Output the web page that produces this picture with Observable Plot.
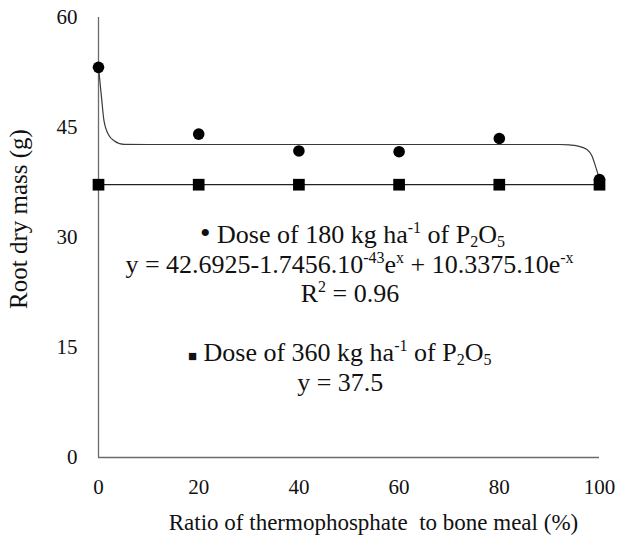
<!DOCTYPE html>
<html>
<head>
<meta charset="utf-8">
<script src="https://cdn.jsdelivr.net/npm/d3@7"></script>
<script src="https://cdn.jsdelivr.net/npm/@observablehq/plot@0.6"></script>
<style>
  html, body { margin: 0; padding: 0; background: #fff; }
</style>
</head>
<body>
<div id="chart"></div>
<script>
// ---- data ----
const ratios = [0, 20, 40, 60, 80, 100];
const dose180 = [53.2, 44.1, 41.8, 41.7, 43.5, 37.9];
const dose360 = [37.2, 37.2, 37.2, 37.2, 37.2, 37.2];
// fitted curve for dose 180
const fitX = [0, 0.6, 1.1, 2.1, 3.1, 5.1, 10, 20, 40, 60, 80, 92, 94, 95.5, 97.5, 98.5, 99.3, 100];
const fitY = [53.2, 49.1, 45.9, 43.9, 43.2, 42.7, 42.68, 42.68, 42.68, 42.68, 42.68, 42.68, 42.62, 42.5, 42.0, 41.1, 39.5, 38.0];
const xTicks = [0, 20, 40, 60, 80, 100];
const yTicks = [0, 15, 30, 45, 60];
const xTitle = "Ratio of thermophosphate  to bone meal (%)";
const yTitle = "Root dry mass (g)";

const pts180 = ratios.map((x, i) => ({x, y: dose180[i]}));
const pts360 = ratios.map((x, i) => ({x, y: dose360[i]}));
const fit = fitX.map((x, i) => ({x, y: fitY[i]}));

const serif = "'Liberation Serif', 'Times New Roman', serif";
const ink = "#111";

function annotations() {
  const g = d3.create("svg:g")
    .attr("font-family", serif)
    .attr("fill", ink);

  function line(cx, baseline, size, parts) {
    const t = g.append("text")
      .attr("x", cx).attr("y", baseline)
      .attr("text-anchor", "middle")
      .attr("font-size", size)
      .style("white-space", "pre");
    let shift = 0;
    for (const [txt, kind, extra] of parts) {
      let target = 0, fs = size;
      if (kind === "sup") { target = -Math.round(size * 0.40); fs = Math.round(size * 0.62); }
      else if (kind === "sub") { target = Math.round(size * 0.15); fs = Math.round(size * 0.62); }
      else if (kind === "small") { fs = extra; }
      const span = t.append("tspan").attr("font-size", fs).text(txt);
      if (target !== shift) { span.attr("dy", target - shift); shift = target; }
    }
    return t;
  }

  const S = 26;
  line(352.5, 243, S, [["\u2022", "small", 30], [" Dose of 180 kg ha"], ["-1", "sup"], [" of P"], ["2", "sub"], ["O"], ["5", "sub"]]);
  line(349.5, 273.3, S, [["y = 42.6925-1.7456.10"], ["-43", "sup"], ["e"], ["x", "sup"], [" + 10.3375.10e"], ["-x", "sup"]]);
  line(350, 301.7, S, [["R"], ["2", "sup"], [" = 0.96"]]);
  line(339.7, 361, S, [["\u25A0", "small", 15], [" Dose of 360 kg ha"], ["-1", "sup"], [" of P"], ["2", "sub"], ["O"], ["5", "sub"]]);
  line(340.3, 390.5, S, [["y = 37.5"]]);

  // axis titles
  g.append("text")
    .attr("x", 373.5).attr("y", 530)
    .attr("text-anchor", "middle")
    .attr("font-size", 23)
    .style("white-space", "pre")
    .text(xTitle);
  g.append("text")
    .attr("transform", "translate(27,219) rotate(-90)")
    .attr("text-anchor", "middle")
    .attr("font-size", 25)
    .text(yTitle);
  return g.node();
}

const chart = Plot.plot({
  width: 617,
  height: 543,
  marginLeft: 98,
  marginRight: 18,
  marginTop: 17,
  marginBottom: 86,
  style: {fontFamily: serif, fontSize: "21px", color: ink, background: "#fff"},
  x: {domain: [0, 100], nice: false},
  y: {domain: [0, 60], nice: false},
  marks: [
    Plot.ruleX([0], {y1: 0, y2: 60, stroke: "#6b6b6b", strokeWidth: 1.3}),
    Plot.ruleY([0], {x1: 0, x2: 100, stroke: "#6b6b6b", strokeWidth: 1.3}),
    Plot.line(fit, {x: "x", y: "y", curve: "monotone-x", stroke: "#3a3a3a", strokeWidth: 1.2}),
    Plot.line(pts360, {x: "x", y: "y", stroke: "#222", strokeWidth: 1.2}),
    Plot.dot(pts360, {x: "x", y: "y", symbol: "square", r: 6.6, fill: "#000", stroke: "none"}),
    Plot.dot(pts180, {x: "x", y: "y", r: 5.8, fill: "#000", stroke: "none"}),
    Plot.axisX({ticks: xTicks, tickSize: 0, tickPadding: 21.5, tickFormat: d => String(d), label: null, fontSize: 21}),
    Plot.axisY({ticks: yTicks, tickSize: 0, tickPadding: 21, tickFormat: d => String(d), label: null, fontSize: 21}),
    annotations
  ]
});
document.getElementById("chart").appendChild(chart);
</script>
</body>
</html>
